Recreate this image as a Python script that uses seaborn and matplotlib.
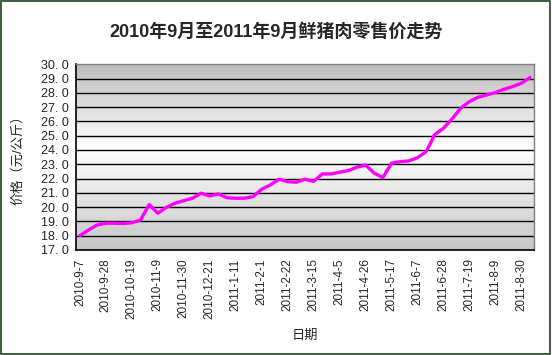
import matplotlib
matplotlib.use("Agg")
import matplotlib.pyplot as plt
from matplotlib.colors import LinearSegmentedColormap
from matplotlib.patches import Rectangle
import seaborn as sns
import pandas as pd
import numpy as np

# weekly retail pork price, 2010-9-7 .. 2011-9-6 (yuan/kg)
dates = pd.date_range("2010-09-07", periods=53, freq="7D")
prices = [18.0, 18.4, 18.75, 18.87, 18.87, 18.85, 18.9, 19.1, 20.17, 19.57,
          19.99, 20.27, 20.45, 20.62, 20.97, 20.78, 20.92, 20.65, 20.62, 20.62,
          20.73, 21.25, 21.55, 21.95, 21.78, 21.74, 21.95, 21.8, 22.32, 22.32,
          22.44, 22.55, 22.79, 22.95, 22.37, 22.07, 23.07, 23.18, 23.23, 23.46,
          23.88, 25.08, 25.52, 26.18, 26.92, 27.39, 27.69, 27.85, 28.02, 28.25,
          28.44, 28.67, 29.07]
y_ticks = list(range(17, 31))

title = "2010年9月至2011年9月鲜猪肉零售价走势"
ylabel = "价格（元/公斤）"
xlabel = "日期"

df = pd.DataFrame({"pos": np.arange(len(dates)), "price": prices})
labels = [f"{d.year}-{d.month}-{d.day}" for d in dates]

sns.set_style("white")
plt.rcParams["font.family"] = ["Liberation Sans", "Noto Sans CJK SC", "DejaVu Sans"]

fig = plt.figure(figsize=(5.52, 3.55), dpi=100)
ax = fig.add_axes([0.137, 0.296, 0.831, 0.523])

# gray-white-gray gradient plot area
grad = np.linspace(0, 1, 256).reshape(-1, 1)
cmap = LinearSegmentedColormap.from_list(
    "bg", [(0, "#c6c6c6"), (0.55, "#ffffff"), (1, "#bdbdbd")])
ax.imshow(grad, cmap=cmap, origin="lower", aspect="auto",
          extent=[-0.5, len(dates) - 0.5, 17, 30], zorder=0)

for v in y_ticks[1:-1]:
    ax.axhline(v, color="black", lw=1.0, zorder=1)

sns.lineplot(data=df, x="pos", y="price", ax=ax, color="#ff00ff", lw=2.4, zorder=3)

ax.set_xlim(-0.5, len(dates) - 0.5)
ax.set_ylim(17, 30)
ax.set_yticks(y_ticks)
ax.set_yticklabels([f"{v:.1f}".replace(".", ". ") for v in y_ticks], fontsize=9)
ax.set_xticks(np.arange(0, len(dates), 3))
ax.set_xticklabels(labels[::3], rotation=90, fontsize=8.5)
ax.set_xticks(np.arange(-0.5, len(dates), 1), minor=True)
ax.tick_params(axis="x", which="major", length=0, pad=6)
ax.tick_params(axis="x", which="minor", length=4, direction="in", color="black", width=1)
ax.tick_params(axis="y", length=0, pad=5)

for side in ["left", "bottom"]:
    ax.spines[side].set_color("black")
    ax.spines[side].set_linewidth(1.2)
for side in ["top", "right"]:
    ax.spines[side].set_color("#808080")
    ax.spines[side].set_linewidth(1.0)

ax.set_xlabel(xlabel, fontsize=9.5, labelpad=8)
ax.set_ylabel(ylabel, fontsize=9.5, labelpad=12)
fig.suptitle(title, x=0.5, y=0.935, fontsize=13, fontweight="bold")

fig.patches.append(Rectangle((0.002, 0.003), 0.995, 0.994, transform=fig.transFigure,
                             fill=False, edgecolor="#1f3f1f", lw=1.2))

fig.savefig("out.png", dpi=100)
